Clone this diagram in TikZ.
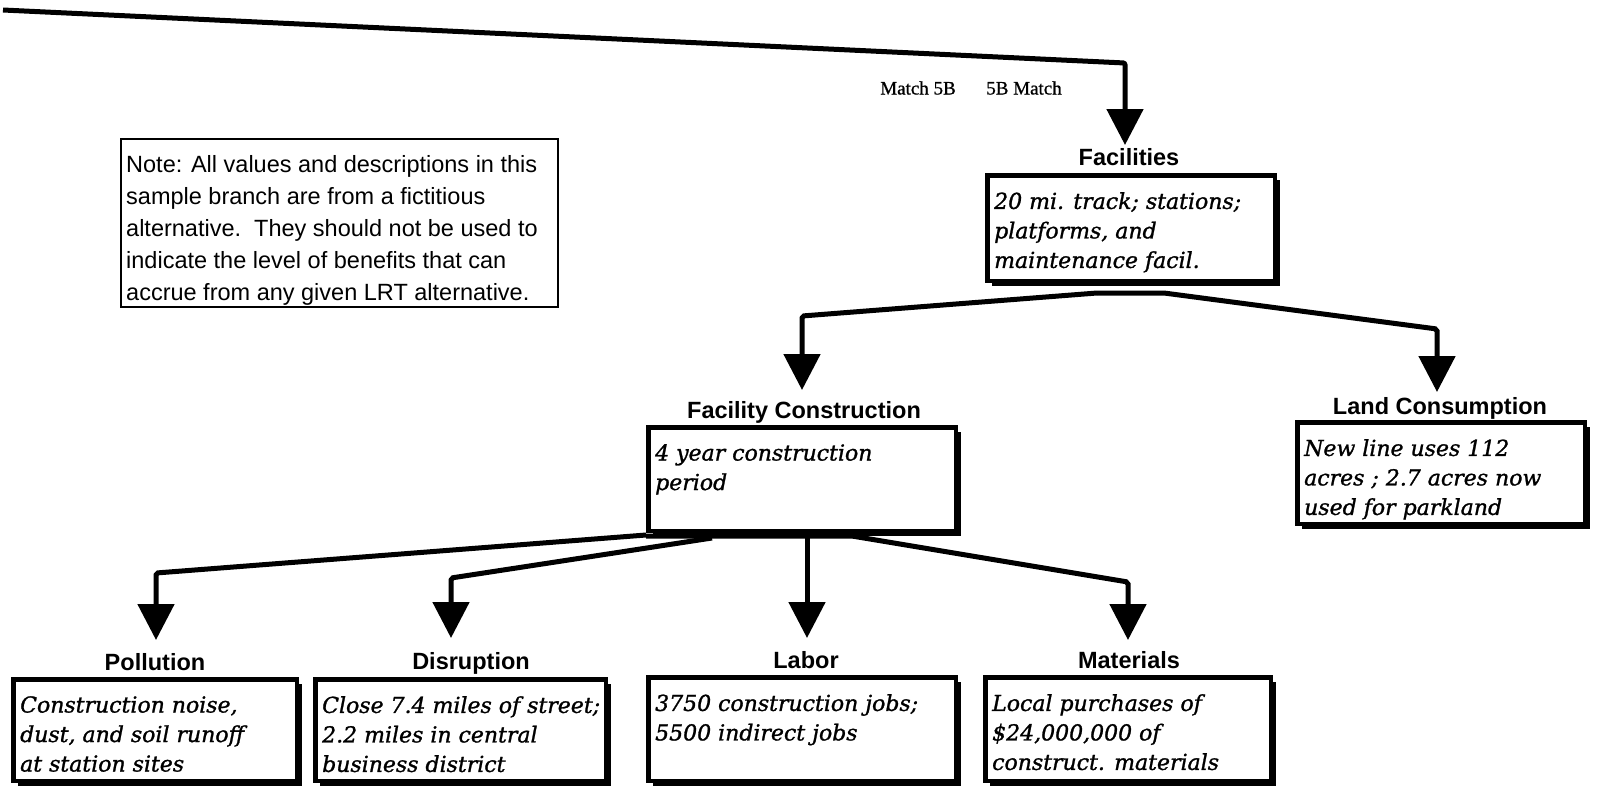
\documentclass[tikz,border=0pt]{standalone}
\usepackage{fontspec}
\setmainfont{Liberation Sans}
\newfontfamily\handfont[FakeBold=1.2]{DejaVu Serif}
\newfontfamily\timesfont[FakeBold=0.8]{Liberation Serif}
\usetikzlibrary{arrows.meta,shadows,calc}
\pgfdeclarelayer{bg}
\pgfsetlayers{bg,main}

\tikzset{
  conn/.style={line width=5pt, rounded corners=2pt},
  arr/.style={conn, -{Triangle[width=36pt,length=36pt]}},
  ttl/.style={font=\fontsize{23.5}{28}\selectfont\bfseries, inner sep=0pt, anchor=base},
  box/.style={draw, line width=4.5pt, fill=white, inner sep=0pt,
    drop shadow={shadow xshift=5pt, shadow yshift=-5pt, fill=black, opacity=1}},
  body/.style={font=\handfont\itshape\fontsize{22}{29.5}\selectfont, align=left,
    inner sep=0pt, anchor=north west},
  notetext/.style={font=\fontsize{23.5}{32}\selectfont, align=left,
    inner sep=0pt, anchor=north west},
  matchlabel/.style={font=\timesfont\fontsize{19}{22}\selectfont},
}

% box with shadow: name, left, top, right, bottom (outer edges), text
\newcommand\shadowbox[6]{%
  \node[box, minimum width={#4-#2-9.5}, minimum height={#5-#3-9.5}]
    (#1) at ({(#2+#4-5)/2},{(#3+#5-5)/2}) {};
  \node[body] (#1txt) at ({#2+9},{#3+19}) {#6};
}

\begin{document}
\begin{tikzpicture}[x=1pt, y=-1pt]
\useasboundingbox (0,0) rectangle (1600,793);

% note
\node[draw, line width=1.5pt, minimum width=437pt, minimum height=168pt,
  anchor=north west, inner sep=0pt] (note) at (120,138) {};
\node[notetext] (noteTxt) at (126,155)
  {Note: All values and descriptions in this\\
   sample branch are from a fictitious\\
   alternative.\ \ They should not be used to\\
   indicate the level of benefits that can\\
   accrue from any given LRT alternative.};

% match labels
\node[matchlabel] (m1) at (918,88) {Match 5B};
\node[matchlabel] (m2) at (1024,88) {5B Match};

% titles
\node[ttl] (facT)  at (1129,165) {Facilities};
\node[ttl] (fcT)   at (804,418)  {Facility Construction};
\node[ttl] (landT) at (1440,414) {Land Consumption};
\node[ttl] (polT)  at (155,670)  {Pollution};
\node[ttl] (disT)  at (471,669)  {Disruption};
\node[ttl] (labT)  at (806,668)  {Labor};
\node[ttl] (matT)  at (1129,668) {Materials};

% boxes
\shadowbox{fac}{985}{173}{1282}{288}{20 mi. track; stations;\\ platforms, and\\ maintenance facil.}
\shadowbox{fc}{646}{425}{963}{538}{4 year construction\\ period}
\shadowbox{land}{1295}{420}{1592}{531}{New line uses 112\\ acres ; 2.7 acres now\\ used for parkland}
\shadowbox{pol}{11}{677}{304}{788}{Construction noise,\\ dust, and soil runoff\\ at station sites}
\shadowbox{dis}{313}{677}{613}{788}{Close 7.4 miles of street;\\ 2.2 miles in central\\ business district}
\shadowbox{lab}{646}{675}{963}{788}{3750 construction jobs;\\ 5500 indirect jobs}
\shadowbox{mat}{983}{675}{1278}{788}{Local purchases of\\ \$24,000,000 of\\ construct. materials}

% connector points
\coordinate (in)      at (3,10);
\coordinate (inC)     at (1125,63);
\coordinate (facTip)  at (1125,145);
\coordinate (fcC)     at (802,316);
\coordinate (fcTip)   at (802,390);
\coordinate (landC)   at (1437,329);
\coordinate (landTip) at (1437,392);
\coordinate (polC)    at (156,573);
\coordinate (polTip)  at (156,640);
\coordinate (disC)    at (451,578);
\coordinate (disTip)  at (451,638);
\coordinate (labTip)  at (807,638);
\coordinate (matC)    at (1128,582);
\coordinate (matTip)  at (1128,640);

\begin{pgfonlayer}{bg}
  \draw[arr] (in) -- (inC) -- (facTip);
  \draw[arr] ($(fac.south)+(-34,10)$) -- (fcC) -- (fcTip);
  \draw[arr] ($(fac.south)+(-34,10)$) -- ($(fac.south)+(33,10)$) -- (landC) -- (landTip);
  \draw[arr] ($(fc.south west)+(0,2)$) -- (polC) -- (polTip);
  \draw[arr] ($(fc.south)+(-90,5)$) -- (disC) -- (disTip);
  \draw[arr] ($(fc.south west)+(0,3)$) -- ($(fc.south)+(50,3)$) -- (matC) -- (matTip);
  \draw[arr] (labTip |- fc.south) -- (labTip);
\end{pgfonlayer}
\end{tikzpicture}
\end{document}
